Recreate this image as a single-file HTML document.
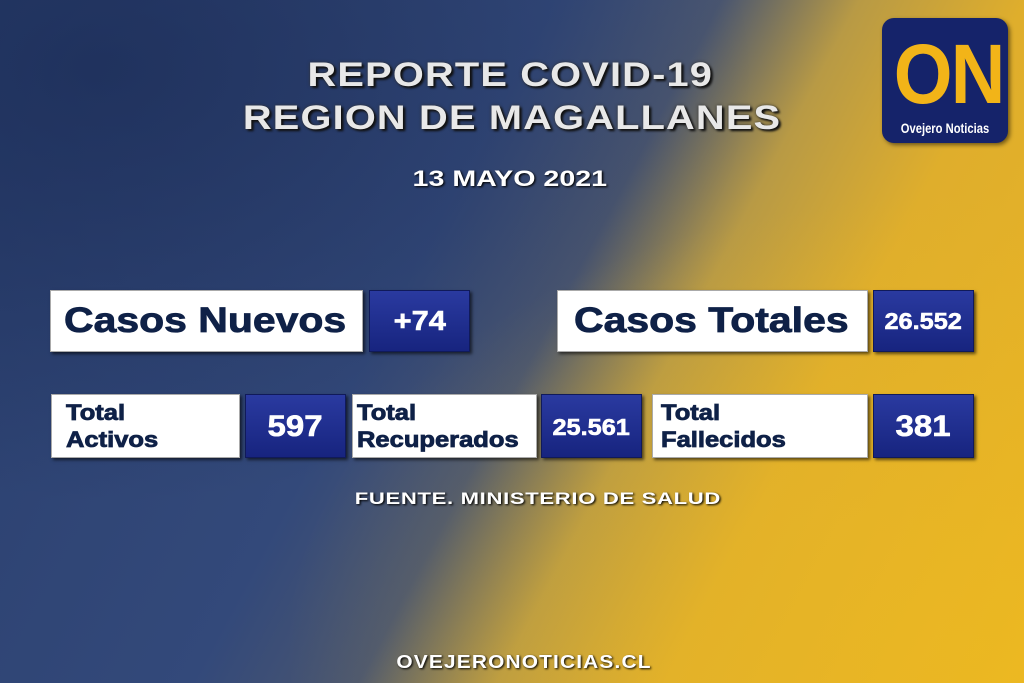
<!DOCTYPE html>
<html><head><meta charset="utf-8"><style>
*{margin:0;padding:0;box-sizing:border-box}
body{width:1024px;height:683px;overflow:hidden;font-family:"Liberation Sans",sans-serif;font-weight:bold}
#bg{position:absolute;left:0;top:0;width:1024px;height:683px;background:linear-gradient(118deg,#2a3f6e 0%,#33497a 40%,#4a5670 52%,#b89a45 62%,#dfae2c 74%,#e9b424 100%)}
#bg2{position:absolute;left:0;top:0;width:1024px;height:683px;background:radial-gradient(ellipse at 10% 10%,rgba(20,35,75,.5),transparent 50%),radial-gradient(ellipse at 95% 95%,rgba(240,190,30,.4),transparent 50%)}
.t{position:absolute;left:0;width:1024px;text-align:center;color:#e8e8e8;text-shadow:2px 2px 2px #111,0 0 3px #333}
.t span{display:inline-block}
.w{position:absolute;background:#fff;border:1px solid #aaa;box-shadow:2px 2px 3px rgba(0,0,0,.6);color:#0f2147;-webkit-text-stroke:.8px #0f2147}
.b{position:absolute;background:linear-gradient(#2a3aa0,#17247f);border:1px solid #101a5a;box-shadow:2px 2px 3px rgba(0,0,0,.6);color:#fff;text-align:center;-webkit-text-stroke:.6px #fff}
.big{font-size:35px;line-height:60px;padding-left:13px}
.big span{display:inline-block;transform:scaleX(1.17);transform-origin:left}
.sm{font-size:22px;line-height:27px;padding:4px 0 0 14px}
.sm span{display:inline-block;transform:scaleX(1.16);transform-origin:left}
.b span{display:inline-block;transform:scaleX(1.1)}
</style></head><body>
<div id="bg"></div><div id="bg2"></div>
<div class="t" style="top:56px;font-size:34px;letter-spacing:1px;left:-2px"><span style="transform:scaleX(1.17)">REPORTE COVID-19</span></div>
<div class="t" style="top:99px;font-size:34px;letter-spacing:1px"><span style="transform:scaleX(1.17)">REGION DE MAGALLANES</span></div>
<div class="t" style="top:166px;font-size:22px;color:#fff;text-shadow:1px 1px 2px #000;left:-2px"><span style="transform:scaleX(1.3)">13 MAYO 2021</span></div>
<div class="w big" style="left:50px;top:290px;width:313px;height:62px"><span>Casos Nuevos</span></div>
<div class="b" style="left:369px;top:290px;width:101px;height:62px;font-size:28px;line-height:60px"><span>+74</span></div>
<div class="w big" style="left:557px;top:290px;width:311px;height:62px;padding-left:16px"><span>Casos Totales</span></div>
<div class="b" style="left:873px;top:290px;width:101px;height:62px;font-size:23px;line-height:60px"><span>26.552</span></div>
<div class="w sm" style="left:51px;top:394px;width:189px;height:64px"><span>Total<br>Activos</span></div>
<div class="b" style="left:245px;top:394px;width:101px;height:64px;font-size:30px;line-height:64px"><span>597</span></div>
<div class="w sm" style="left:352px;top:394px;width:185px;height:64px;padding-left:4px"><span>Total<br>Recuperados</span></div>
<div class="b" style="left:541px;top:394px;width:101px;height:64px;font-size:23px;line-height:64px"><span>25.561</span></div>
<div class="w sm" style="left:652px;top:394px;width:216px;height:64px;padding-left:8px"><span>Total<br>Fallecidos</span></div>
<div class="b" style="left:873px;top:394px;width:101px;height:64px;font-size:30px;line-height:64px"><span>381</span></div>
<div class="t" style="top:489px;font-size:17px;color:#fff;left:26px;letter-spacing:.5px;text-shadow:1px 1px 2px #000"><span style="transform:scaleX(1.3)">FUENTE. MINISTERIO DE SALUD</span></div>
<div class="t" style="top:652px;font-size:18px;color:#fff;left:12px;letter-spacing:1px;text-shadow:1px 1px 2px #000"><span style="transform:scaleX(1.16)">OVEJERONOTICIAS.CL</span></div>
<div style="position:absolute;left:882px;top:18px;width:126px;height:125px;border-radius:12px;background:#15236a;box-shadow:2px 2px 4px rgba(0,0,0,.5)">
<div style="position:absolute;left:6px;top:16px;width:114px;text-align:center;font-size:84px;line-height:80px;color:#f2b418;letter-spacing:-2px;transform:scaleX(.9)">ON</div>
<div style="position:absolute;left:0;top:102px;width:126px;text-align:center;font-size:14px;color:#fff;font-weight:bold;transform:scaleX(.8)">Ovejero Noticias</div>
</div>
</body></html>
